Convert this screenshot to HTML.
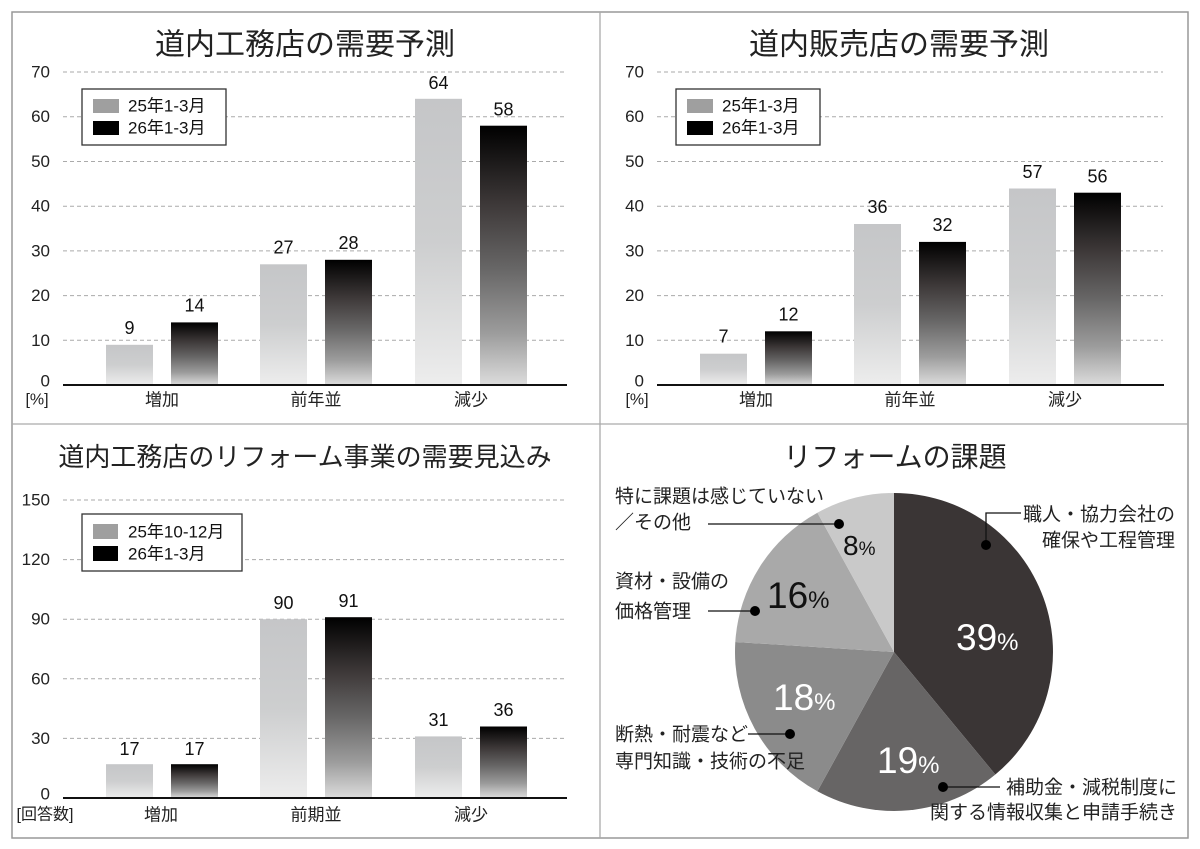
<!DOCTYPE html>
<html><head><meta charset="utf-8"><style>
html,body{margin:0;padding:0;background:#fff;}
svg{display:block;font-family:"Liberation Sans","Noto Sans CJK JP",sans-serif;}
</style></head><body>
<svg width="1200" height="849" viewBox="0 0 1200 849" xmlns="http://www.w3.org/2000/svg">
<defs>
<linearGradient id="lg" x1="0" y1="0" x2="0" y2="1">
<stop offset="0" stop-color="#c5c6c8"/><stop offset="0.5" stop-color="#cdcecf"/><stop offset="1" stop-color="#ededed"/>
</linearGradient>
<linearGradient id="dg" x1="0" y1="0" x2="0" y2="1">
<stop offset="0" stop-color="#000"/><stop offset="0.3" stop-color="#3d3838"/><stop offset="0.55" stop-color="#676666"/><stop offset="0.8" stop-color="#9c9c9c"/><stop offset="1" stop-color="#dcdcdc"/>
</linearGradient>
</defs>
<rect width="1200" height="849" fill="#fff"/>
<!-- frame -->
<rect x="12" y="12" width="1176" height="826" fill="none" stroke="#999" stroke-width="1.5"/>
<line x1="600" y1="12" x2="600" y2="838" stroke="#aaa" stroke-width="1.3"/>
<line x1="12" y1="424" x2="1188" y2="424" stroke="#aaa" stroke-width="1.3"/>

<!-- ===== Top-left ===== -->
<text x="305" y="45" font-size="30" text-anchor="middle" dominant-baseline="central" fill="#222">道内工務店の需要予測</text>
<g stroke="#aaa" stroke-width="1" stroke-dasharray="4 3">
<line x1="63" y1="72" x2="566" y2="72"/><line x1="63" y1="116.7" x2="566" y2="116.7"/>
<line x1="63" y1="161.5" x2="566" y2="161.5"/><line x1="63" y1="206.2" x2="566" y2="206.2"/>
<line x1="63" y1="250.9" x2="566" y2="250.9"/><line x1="63" y1="295.6" x2="566" y2="295.6"/>
<line x1="63" y1="340.3" x2="566" y2="340.3"/>
</g>
<g font-size="17" fill="#222" text-anchor="end" dominant-baseline="central">
<text x="50" y="72">70</text><text x="50" y="116.7">60</text><text x="50" y="161.5">50</text>
<text x="50" y="206.2">40</text><text x="50" y="250.9">30</text><text x="50" y="295.6">20</text>
<text x="50" y="340.3">10</text><text x="50" y="381">0</text>
</g>
<rect x="106" y="344.8" width="47" height="40.2" fill="url(#lg)"/>
<rect x="171" y="322.4" width="47" height="62.6" fill="url(#dg)"/>
<rect x="260" y="264.3" width="47" height="120.7" fill="url(#lg)"/>
<rect x="325" y="259.8" width="47" height="125.2" fill="url(#dg)"/>
<rect x="415" y="98.8" width="47" height="286.2" fill="url(#lg)"/>
<rect x="480" y="125.7" width="47" height="259.3" fill="url(#dg)"/>
<line x1="63" y1="385" x2="567" y2="385" stroke="#111" stroke-width="2"/>
<g font-size="18" fill="#111" text-anchor="middle" dominant-baseline="central">
<text x="129.5" y="327.8">9</text><text x="194.5" y="305.4">14</text>
<text x="283.5" y="247.3">27</text><text x="348.5" y="242.8">28</text>
<text x="438.5" y="83">64</text><text x="503.5" y="109.7">58</text>
</g>
<g font-size="17" fill="#222" text-anchor="middle" dominant-baseline="central">
<text x="162" y="400">増加</text><text x="316" y="400">前年並</text><text x="471" y="400">減少</text>
<text x="37" y="400" font-size="16">[%]</text>
</g>
<rect x="82" y="89" width="144" height="56" fill="#fff" stroke="#333" stroke-width="1.3"/>
<rect x="93" y="99" width="26" height="14" fill="#9f9f9f"/>
<rect x="93" y="121" width="26" height="14" fill="#000"/>
<g font-size="17" fill="#111" dominant-baseline="central">
<text x="128" y="106">25年1-3月</text><text x="128" y="128">26年1-3月</text>
</g>

<!-- ===== Top-right ===== -->
<text x="899" y="45" font-size="30" text-anchor="middle" dominant-baseline="central" fill="#222">道内販売店の需要予測</text>
<g stroke="#aaa" stroke-width="1" stroke-dasharray="4 3">
<line x1="657" y1="72" x2="1163" y2="72"/><line x1="657" y1="116.7" x2="1163" y2="116.7"/>
<line x1="657" y1="161.5" x2="1163" y2="161.5"/><line x1="657" y1="206.2" x2="1163" y2="206.2"/>
<line x1="657" y1="250.9" x2="1163" y2="250.9"/><line x1="657" y1="295.6" x2="1163" y2="295.6"/>
<line x1="657" y1="340.3" x2="1163" y2="340.3"/>
</g>
<g font-size="17" fill="#222" text-anchor="end" dominant-baseline="central">
<text x="644" y="72">70</text><text x="644" y="116.7">60</text><text x="644" y="161.5">50</text>
<text x="644" y="206.2">40</text><text x="644" y="250.9">30</text><text x="644" y="295.6">20</text>
<text x="644" y="340.3">10</text><text x="644" y="381">0</text>
</g>
<rect x="700" y="353.7" width="47" height="31.3" fill="url(#lg)"/>
<rect x="765" y="331.3" width="47" height="53.7" fill="url(#dg)"/>
<rect x="854" y="224" width="47" height="161" fill="url(#lg)"/>
<rect x="919" y="241.9" width="47" height="143.1" fill="url(#dg)"/>
<rect x="1009" y="188.5" width="47" height="196.5" fill="url(#lg)"/>
<rect x="1074" y="192.7" width="47" height="192.3" fill="url(#dg)"/>
<line x1="657" y1="385" x2="1164" y2="385" stroke="#111" stroke-width="2"/>
<g font-size="18" fill="#111" text-anchor="middle" dominant-baseline="central">
<text x="723.5" y="336.7">7</text><text x="788.5" y="314.3">12</text>
<text x="877.5" y="207">36</text><text x="942.5" y="224.9">32</text>
<text x="1032.5" y="172">57</text><text x="1097.5" y="176.5">56</text>
</g>
<g font-size="17" fill="#222" text-anchor="middle" dominant-baseline="central">
<text x="756" y="400">増加</text><text x="910" y="400">前年並</text><text x="1065" y="400">減少</text>
<text x="637" y="400" font-size="16">[%]</text>
</g>
<rect x="676" y="89" width="144" height="56" fill="#fff" stroke="#333" stroke-width="1.3"/>
<rect x="687" y="99" width="26" height="14" fill="#9f9f9f"/>
<rect x="687" y="121" width="26" height="14" fill="#000"/>
<g font-size="17" fill="#111" dominant-baseline="central">
<text x="722" y="106">25年1-3月</text><text x="722" y="128">26年1-3月</text>
</g>

<!-- ===== Bottom-left ===== -->
<text x="305" y="457" font-size="26" text-anchor="middle" dominant-baseline="central" fill="#222">道内工務店のリフォーム事業の需要見込み</text>
<g stroke="#aaa" stroke-width="1" stroke-dasharray="4 3">
<line x1="63" y1="500" x2="566" y2="500"/><line x1="63" y1="559.6" x2="566" y2="559.6"/>
<line x1="63" y1="619.2" x2="566" y2="619.2"/><line x1="63" y1="678.8" x2="566" y2="678.8"/>
<line x1="63" y1="738.4" x2="566" y2="738.4"/>
</g>
<g font-size="17" fill="#222" text-anchor="end" dominant-baseline="central">
<text x="50" y="500">150</text><text x="50" y="559.6">120</text><text x="50" y="619.2">90</text>
<text x="50" y="678.8">60</text><text x="50" y="738.4">30</text><text x="50" y="794">0</text>
</g>
<rect x="106" y="764.2" width="47" height="33.8" fill="url(#lg)"/>
<rect x="171" y="764.2" width="47" height="33.8" fill="url(#dg)"/>
<rect x="260" y="619.2" width="47" height="178.8" fill="url(#lg)"/>
<rect x="325" y="617.2" width="47" height="180.8" fill="url(#dg)"/>
<rect x="415" y="736.4" width="47" height="61.6" fill="url(#lg)"/>
<rect x="480" y="726.5" width="47" height="71.5" fill="url(#dg)"/>
<line x1="63" y1="798" x2="567" y2="798" stroke="#111" stroke-width="2"/>
<g font-size="18" fill="#111" text-anchor="middle" dominant-baseline="central">
<text x="129.5" y="749">17</text><text x="194.5" y="749">17</text>
<text x="283.5" y="603">90</text><text x="348.5" y="601">91</text>
<text x="438.5" y="720">31</text><text x="503.5" y="710">36</text>
</g>
<g font-size="17" fill="#222" text-anchor="middle" dominant-baseline="central">
<text x="161" y="815">増加</text><text x="316" y="815">前期並</text><text x="471" y="815">減少</text>
<text x="45" y="815" font-size="16">[回答数]</text>
</g>
<rect x="82" y="514" width="160" height="57" fill="#fff" stroke="#333" stroke-width="1.3"/>
<rect x="93" y="524" width="25" height="15" fill="#9f9f9f"/>
<rect x="93" y="546" width="25" height="15" fill="#000"/>
<g font-size="17" fill="#111" dominant-baseline="central">
<text x="128" y="532">25年10-12月</text><text x="128" y="554">26年1-3月</text>
</g>

<!-- ===== Pie ===== -->
<text x="895" y="457" font-size="28" text-anchor="middle" dominant-baseline="central" fill="#222">リフォームの課題</text>
<path d="M894,652 L894,493 A159,159 0 0 1 995.35,774.5 Z" fill="#3a3535"/>
<path d="M894,652 L995.35,774.5 A159,159 0 0 1 817.4,791.3 Z" fill="#676565"/>
<path d="M894,652 L817.4,791.3 A159,159 0 0 1 735.3,642 Z" fill="#8b8b8b"/>
<path d="M894,652 L735.3,642 A159,159 0 0 1 817.4,512.7 Z" fill="#a9a9a9"/>
<path d="M894,652 L817.4,512.7 A159,159 0 0 1 894,493 Z" fill="#c9c9c9"/>

<text x="956" y="650" font-size="37" fill="#fff">39<tspan font-size="24">%</tspan></text>
<text x="877" y="773" font-size="37" fill="#fff">19<tspan font-size="24">%</tspan></text>
<text x="773" y="710" font-size="37" fill="#fff">18<tspan font-size="24">%</tspan></text>
<text x="767" y="608" font-size="37" fill="#111">16<tspan font-size="24">%</tspan></text>
<text x="843" y="555" font-size="28" fill="#111">8<tspan font-size="19">%</tspan></text>

<g stroke="#111" stroke-width="1.3" fill="none">
<polyline points="986,545 986,513 1021,513"/>
<line x1="708" y1="524" x2="839" y2="524"/>
<line x1="708" y1="611" x2="755" y2="611"/>
<line x1="748" y1="734" x2="790" y2="734"/>
<line x1="943" y1="787" x2="1000" y2="787"/>
</g>
<g fill="#000">
<circle cx="986" cy="545" r="5"/><circle cx="839" cy="524" r="5"/>
<circle cx="755" cy="611" r="5"/><circle cx="790" cy="734" r="5"/>
<circle cx="943" cy="787" r="5"/>
</g>
<g font-size="19" fill="#222" dominant-baseline="central">
<text x="615" y="497">特に課題は感じていない</text>
<text x="615" y="523">／その他</text>
<text x="615" y="582">資材・設備の</text>
<text x="615" y="612">価格管理</text>
<text x="615" y="735">断熱・耐震など</text>
<text x="615" y="762">専門知識・技術の不足</text>
</g>
<g font-size="19" fill="#222" dominant-baseline="central" text-anchor="end">
<text x="1175" y="515">職人・協力会社の</text>
<text x="1175" y="541">確保や工程管理</text>
<text x="1177" y="788">補助金・減税制度に</text>
<text x="1177" y="813">関する情報収集と申請手続き</text>
</g>
</svg>
</body></html>
